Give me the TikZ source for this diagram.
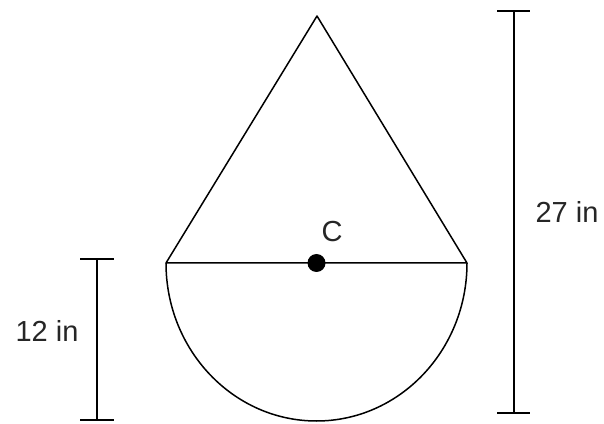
\documentclass[tikz,border=0pt]{standalone}
\usepackage{fontspec}
\setmainfont{Liberation Sans}
\begin{document}
\begin{tikzpicture}[x=1pt,y=1pt,
  shape line/.style={line width=1.5pt, line join=round},
  dim line/.style={line width=1.5pt},
  lbl/.style={inner sep=0pt, font=\fontsize{29}{29}\selectfont, text=black!85}]
\useasboundingbox (0,0) rectangle (604,423);
\fill[white] (0,0) rectangle (604,423);
% shape
\coordinate (apex) at (317,407);
\coordinate (bl) at (166,160);
\coordinate (br) at (467,160);
\coordinate (c) at (316.5,160);
\draw[shape line] (bl) -- (apex) -- (br) -- cycle;
\draw[shape line] (bl) arc[start angle=180, end angle=360, x radius=150.5, y radius=158];
\fill (c) circle[radius=9];
\node[lbl] (clbl) at (332,191) {C};
% right dimension
\coordinate (rt) at (514,412);
\coordinate (rb) at (514,10);
\draw[dim line] (rt) -- (rb);
\draw[dim line] ([xshift=-17]rt) -- ([xshift=16]rt);
\draw[dim line] ([xshift=-17]rb) -- ([xshift=16]rb);
\node[lbl] (rlbl) at (567,211) {27 in};
% left dimension
\coordinate (lt) at (97,164);
\coordinate (lb) at (97,3);
\draw[dim line] (lt) -- (lb);
\draw[dim line] ([xshift=-17]lt) -- ([xshift=17]lt);
\draw[dim line] ([xshift=-17]lb) -- ([xshift=17]lb);
\node[lbl] (llbl) at (47,92) {12 in};
\end{tikzpicture}
\end{document}
